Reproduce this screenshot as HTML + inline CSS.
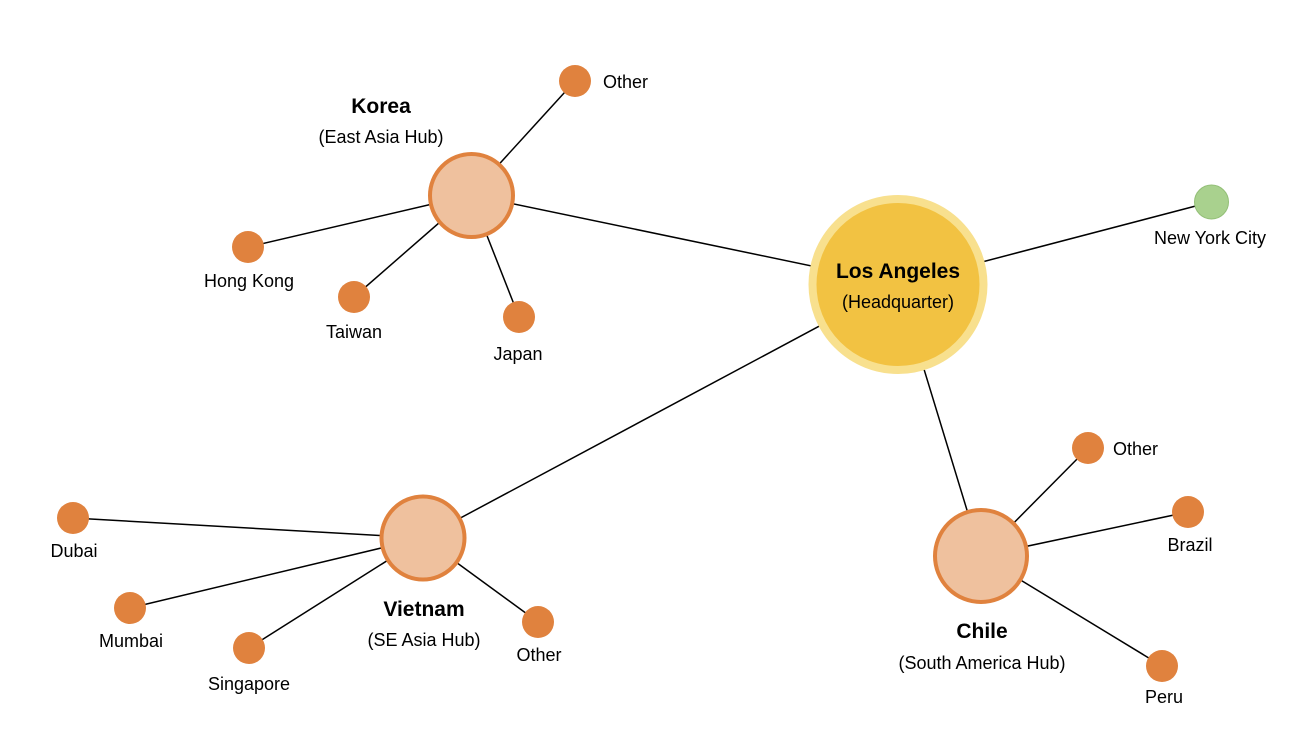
<!DOCTYPE html>
<html><head><meta charset="utf-8"><style>
html,body{margin:0;padding:0;background:#fff;}
svg text{font-family:"Liberation Sans",sans-serif;fill:#000;}
</style></head><body>
<svg width="1300" height="736" viewBox="0 0 1300 736" xmlns="http://www.w3.org/2000/svg">
<g stroke="#000" stroke-width="1.5">
<line x1="471" y1="195" x2="898" y2="284"/>
<line x1="898" y1="284" x2="1211" y2="202"/>
<line x1="898" y1="284" x2="423" y2="538"/>
<line x1="898" y1="284" x2="981" y2="556"/>
<line x1="471" y1="195" x2="575" y2="81"/>
<line x1="471" y1="195" x2="248" y2="247"/>
<line x1="471" y1="195" x2="354" y2="297"/>
<line x1="471" y1="195" x2="519" y2="317"/>
<line x1="423" y1="538" x2="73" y2="518"/>
<line x1="423" y1="538" x2="130" y2="608"/>
<line x1="423" y1="538" x2="249" y2="648"/>
<line x1="423" y1="538" x2="538" y2="622"/>
<line x1="981" y1="556" x2="1088" y2="448"/>
<line x1="981" y1="556" x2="1188" y2="512"/>
<line x1="981" y1="556" x2="1162" y2="666"/>
</g>
<circle cx="898" cy="284.5" r="85.5" fill="#f2c242" stroke="#f8e08e" stroke-width="8"/>
<circle cx="471.5" cy="195.5" r="41.5" fill="#efc19e" stroke="#e0823e" stroke-width="4"/>
<circle cx="423" cy="538" r="41.5" fill="#efc19e" stroke="#e0823e" stroke-width="4"/>
<circle cx="981" cy="556" r="46" fill="#efc19e" stroke="#e0823e" stroke-width="4"/>
<circle cx="1211.5" cy="202" r="17" fill="#a9d18e" stroke="#93bf77" stroke-width="1"/>
<g fill="#e0823e">
<circle cx="575" cy="81" r="16"/>
<circle cx="248" cy="247" r="16"/>
<circle cx="354" cy="297" r="16"/>
<circle cx="519" cy="317" r="16"/>
<circle cx="73" cy="518" r="16"/>
<circle cx="130" cy="608" r="16"/>
<circle cx="249" cy="648" r="16"/>
<circle cx="538" cy="622" r="16"/>
<circle cx="1088" cy="448" r="16"/>
<circle cx="1188" cy="512" r="16"/>
<circle cx="1162" cy="666" r="16"/>
</g>
<g font-size="18" text-anchor="middle">
<text x="898" y="278" font-size="21" font-weight="bold">Los Angeles</text>
<text x="898" y="308">(Headquarter)</text>
<text x="381" y="113" font-size="21" font-weight="bold">Korea</text>
<text x="381" y="143">(East Asia Hub)</text>
<text x="424" y="616" font-size="21" font-weight="bold">Vietnam</text>
<text x="424" y="646">(SE Asia Hub)</text>
<text x="982" y="638" font-size="21" font-weight="bold">Chile</text>
<text x="982" y="669">(South America Hub)</text>
<text x="1210" y="244">New York City</text>
<text x="249" y="287">Hong Kong</text>
<text x="354" y="338">Taiwan</text>
<text x="518" y="360">Japan</text>
<text x="74" y="557">Dubai</text>
<text x="131" y="647">Mumbai</text>
<text x="249" y="690">Singapore</text>
<text x="539" y="661">Other</text>
<text x="1190" y="551">Brazil</text>
<text x="1164" y="703">Peru</text>
</g>
<g font-size="18">
<text x="603" y="88">Other</text>
<text x="1113" y="455">Other</text>
</g>
</svg>
</body></html>
